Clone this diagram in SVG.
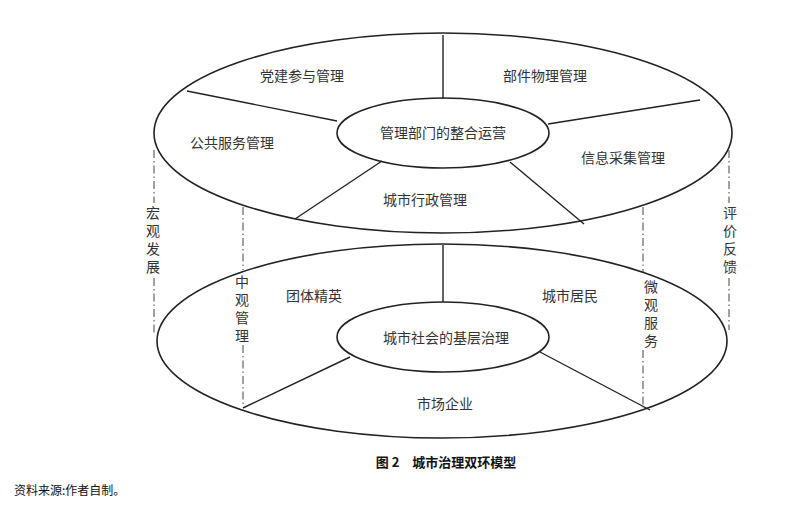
<svg xmlns="http://www.w3.org/2000/svg" width="800" height="510" viewBox="0 0 800 510">
<style>
.e{fill:none;stroke:#222;stroke-width:1.6}
.s{stroke:#222;stroke-width:1.4}
.d{stroke:#444;stroke-width:1;stroke-dasharray:8 3 1.5 3}
text{font-family:"Noto Sans CJK SC","Liberation Serif",serif;font-size:14px;fill:#333;text-anchor:middle}
.v{font-size:14px;writing-mode:vertical-rl;text-anchor:start;letter-spacing:4px}
</style>
<rect width="800" height="510" fill="#fff"/>
<g id="guides">
<line class="d" x1="154" y1="150" x2="154" y2="203"/><line class="d" x1="154" y1="278" x2="154" y2="335"/>
<line class="d" x1="243" y1="207" x2="243" y2="270"/><line class="d" x1="243" y1="345" x2="243" y2="405"/>
<line class="d" x1="643" y1="207" x2="643" y2="272"/><line class="d" x1="643" y1="350" x2="643" y2="408"/>
<line class="d" x1="729" y1="150" x2="729" y2="203"/><line class="d" x1="729" y1="278" x2="729" y2="330"/>
</g>
<g id="connectors">
<line class="s" x1="443" y1="35" x2="443" y2="99"/>
<line class="s" x1="187" y1="91" x2="337" y2="121"/>
<line class="s" x1="700" y1="100" x2="548" y2="124"/>
<line class="s" x1="382" y1="161" x2="295" y2="219"/>
<line class="s" x1="510" y1="162" x2="584" y2="224"/>
<line class="s" x1="443" y1="245" x2="443" y2="302"/>
<line class="s" x1="350" y1="357" x2="243" y2="408"/>
<line class="s" x1="540" y1="352" x2="650" y2="410"/>
</g>
<g id="top-ring"><ellipse class="e" cx="443" cy="133" rx="289" ry="100"/></g>
<g id="top-core"><ellipse class="e" cx="443" cy="133" rx="106" ry="35"/><text x="443" y="138">管理部门的整合运营</text></g>
<g id="t1"><text x="302" y="81">党建参与管理</text></g>
<g id="t2"><text x="545" y="81">部件物理管理</text></g>
<g id="t3"><text x="232" y="148">公共服务管理</text></g>
<g id="t4"><text x="623" y="163">信息采集管理</text></g>
<g id="t5"><text x="425" y="205">城市行政管理</text></g>
<g id="bottom-ring"><ellipse class="e" cx="442" cy="341" rx="285" ry="97"/></g>
<g id="bottom-core"><ellipse class="e" cx="443" cy="337" rx="106" ry="35"/><text x="446" y="343">城市社会的基层治理</text></g>
<g id="b1"><text x="314" y="301">团体精英</text></g>
<g id="b2"><text x="570" y="301">城市居民</text></g>
<g id="b3"><text x="445" y="409">市场企业</text></g>
<g id="l1"><text class="v" x="153" y="206">宏观发展</text></g>
<g id="l2"><text class="v" x="242" y="275">中观管理</text></g>
<g id="l3"><text class="v" x="651" y="280">微观服务</text></g>
<g id="l4"><text class="v" x="730" y="206">评价反馈</text></g>
<text x="446" y="467" style="font-weight:bold;font-size:13px;fill:#111">图 2　城市治理双环模型</text>
<text x="14" y="495" style="text-anchor:start;font-size:12px;fill:#111">资料来源:作者自制。</text>
</svg>
